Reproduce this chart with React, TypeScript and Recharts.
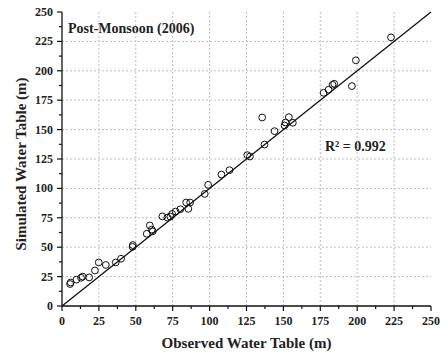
import React from 'react';
import { ScatterChart, Scatter, XAxis, YAxis, ReferenceLine } from 'recharts';

const observed = [5.5, 5.9, 9.8, 12.9, 14, 18.4, 22.3, 24.9, 29.7, 36.4, 40, 47.8, 48, 57.4, 59.5, 60.8, 61.5, 68, 71.4, 73.4, 74.6, 77, 80.2, 84.1, 85.6, 86.8, 96.7, 99, 108, 113.5, 125.5, 127.3, 135.6, 137.2, 144, 150.8, 151.4, 153.7, 156.4, 177.2, 180.6, 183.3, 184.4, 196.4, 199.1, 222.9];
const simulated = [18.7, 20, 22.4, 24, 25, 24.3, 30.2, 37, 34.9, 37, 40.2, 50.3, 51.8, 61.4, 68.5, 65, 63.5, 76.2, 75.2, 76, 78.3, 80.3, 82.3, 88, 82.6, 88, 95.3, 103, 111.8, 115.5, 128.3, 127.1, 160.3, 137.3, 148.7, 153.5, 156, 160.6, 155.8, 181.3, 183.9, 188.1, 189, 187, 208.9, 228.4];

const allTicks = [0, 12.5, 25, 37.5, 50, 62.5, 75, 87.5, 100, 112.5, 125, 137.5, 150, 162.5, 175, 187.5, 200, 212.5, 225, 237.5, 250];
const gridValues = [25, 50, 75, 100, 125, 150, 175, 200, 225];
const titleText = 'Post-Monsoon (2006)';
const r2Text = 'R² = 0.992';
const xTitle = 'Observed Water Table (m)';
const yTitle = 'Simulated Water Table (m)';

const data = observed.map((x, i) => ({ x, y: simulated[i] }));

const FONT = '"Liberation Serif", "Times New Roman", serif';
const isMajor = (v: number) => v % 25 === 0;

const BottomTick = (p: any) => {
  const v = p.payload.value;
  const len = isMajor(v) ? 5 : 3;
  return (
    <g>
      <line x1={p.x} y1={p.y} x2={p.x} y2={p.y + len} stroke="#111" strokeWidth={1.2} />
      {isMajor(v) && (
        <text x={p.x} y={p.y + 19} textAnchor="middle" fontFamily={FONT} fontWeight="bold" fontSize={12} fill="#222">{v}</text>
      )}
    </g>
  );
};
const LeftTick = (p: any) => {
  const v = p.payload.value;
  const len = isMajor(v) ? 5 : 3;
  return (
    <g>
      <line x1={p.x} y1={p.y} x2={p.x - len} y2={p.y} stroke="#111" strokeWidth={1.2} />
      {isMajor(v) && (
        <text x={p.x - 9} y={p.y + 4} textAnchor="end" fontFamily={FONT} fontWeight="bold" fontSize={12} fill="#222">{v}</text>
      )}
    </g>
  );
};
const TopTick = (p: any) => {
  const v = p.payload.value;
  const len = isMajor(v) ? 5 : 3;
  return <line x1={p.x} y1={p.y} x2={p.x} y2={p.y + len} stroke="#111" strokeWidth={1.2} />;
};
const RightTick = (p: any) => {
  const v = p.payload.value;
  const len = isMajor(v) ? 5 : 3;
  return <line x1={p.x} y1={p.y} x2={p.x - len} y2={p.y} stroke="#111" strokeWidth={1.2} />;
};

const Dot = (p: any) => <circle cx={p.cx} cy={p.cy} r={3.4} fill="none" stroke="#111" strokeWidth={1} />;

export default function App() {
  return (
    <div style={{ position: 'absolute', left: 0, top: 0, background: '#fff' }}>
      <ScatterChart width={447} height={361} margin={{ top: 12, right: 16, bottom: 0, left: 0 }}>
        <XAxis xAxisId="b" dataKey="x" type="number" domain={[0, 250]} ticks={allTicks} interval={0}
          orientation="bottom" height={55} tickSize={0} tickMargin={0} tick={<BottomTick />}
          axisLine={{ stroke: '#111', strokeWidth: 1.3 }} tickLine={false} allowDataOverflow />
        <XAxis xAxisId="t" dataKey="x" type="number" domain={[0, 250]} ticks={allTicks} interval={0}
          orientation="top" height={0} tickSize={0} tickMargin={0} tick={<TopTick />}
          axisLine={{ stroke: '#111', strokeWidth: 1.3 }} tickLine={false} allowDataOverflow />
        <YAxis yAxisId="l" dataKey="y" type="number" domain={[0, 250]} ticks={allTicks} interval={0}
          orientation="left" width={62} tickSize={0} tickMargin={0} tick={<LeftTick />}
          axisLine={{ stroke: '#111', strokeWidth: 1.3 }} tickLine={false} allowDataOverflow />
        <YAxis yAxisId="r" dataKey="y" type="number" domain={[0, 250]} ticks={allTicks} interval={0}
          orientation="right" width={0} tickSize={0} tickMargin={0} tick={<RightTick />}
          axisLine={{ stroke: '#111', strokeWidth: 1.3 }} tickLine={false} allowDataOverflow />
        {gridValues.map((v) => (
          <ReferenceLine key={'gx' + v} xAxisId="b" yAxisId="l" x={v} stroke="#bdbdbd" strokeDasharray="2 2" strokeWidth={1} />
        ))}
        {gridValues.map((v) => (
          <ReferenceLine key={'gy' + v} xAxisId="b" yAxisId="l" y={v} stroke="#bdbdbd" strokeDasharray="2 2" strokeWidth={1} />
        ))}
        <ReferenceLine xAxisId="b" yAxisId="l" segment={[{ x: 0, y: 0 }, { x: 250, y: 250 }]} stroke="#111" strokeWidth={1.3} />
        <Scatter xAxisId="b" yAxisId="l" data={data} shape={<Dot />} isAnimationActive={false} />
        <text x={68} y={33} fontFamily={FONT} fontWeight="bold" fontSize={14} fill="#222">{titleText}</text>
        <text x={325} y={151} fontFamily={FONT} fontWeight="bold" fontSize={14} fill="#222">{r2Text}</text>
        <text x={246.5} y={348} textAnchor="middle" fontFamily={FONT} fontWeight="bold" fontSize={15} fill="#222">{xTitle}</text>
        <text x={26} y={164} textAnchor="middle" transform="rotate(-90 26 164)" fontFamily={FONT} fontWeight="bold" fontSize={15} fill="#222">{yTitle}</text>
      </ScatterChart>
    </div>
  );
}
